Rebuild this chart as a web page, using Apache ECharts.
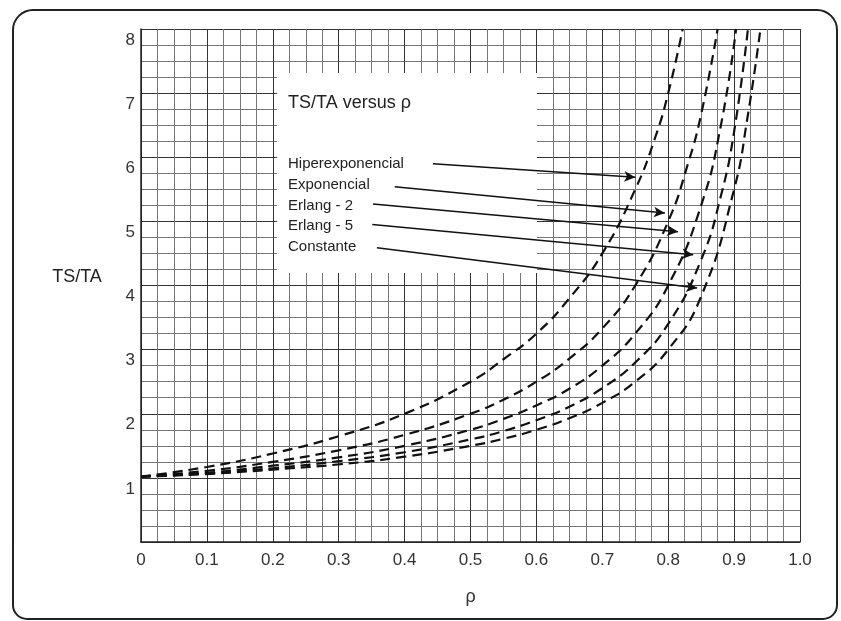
<!DOCTYPE html>
<html>
<head>
<meta charset="utf-8">
<script src="https://cdn.jsdelivr.net/npm/echarts@6/dist/echarts.min.js"></script>
<style>html,body{margin:0;padding:0;background:#fff}#c{width:841px;height:621px}</style>
</head>
<body>
<div id="c"></div>
<script>
// ---- data ----
const seriesNames = ['Hiperexponencial', 'Exponencial', 'Erlang - 2', 'Erlang - 5', 'Constante'];
const rhoHiper = [0, 0.1, 0.2, 0.3, 0.4, 0.5, 0.55, 0.6, 0.65, 0.7, 0.75, 0.78, 0.8, 0.822];
const tsHiper  = [1.02, 1.17, 1.38, 1.65, 2.0, 2.5, 2.85, 3.25, 3.8, 4.5, 5.5, 6.3, 7.0, 8.0];
const rhoExp = [0, 0.1, 0.2, 0.3, 0.4, 0.5, 0.55, 0.6, 0.65, 0.7, 0.75, 0.8, 0.83, 0.85, 0.875];
const tsExp  = [1.02, 1.11, 1.25, 1.43, 1.67, 2.0, 2.22, 2.5, 2.86, 3.33, 4.0, 5.0, 5.9, 6.67, 8.0];
const rhoErl2 = [0, 0.1, 0.2, 0.3, 0.4, 0.5, 0.55, 0.6, 0.65, 0.7, 0.75, 0.8, 0.85, 0.88, 0.903];
const tsErl2  = [1.02, 1.08, 1.19, 1.32, 1.5, 1.75, 1.92, 2.13, 2.39, 2.75, 3.25, 4.0, 5.25, 6.5, 8.0];
const rhoErl5 = [0, 0.1, 0.2, 0.3, 0.4, 0.5, 0.55, 0.6, 0.65, 0.7, 0.75, 0.8, 0.85, 0.88, 0.9, 0.921];
const tsErl5  = [1.02, 1.07, 1.15, 1.26, 1.4, 1.6, 1.73, 1.9, 2.11, 2.4, 2.8, 3.4, 4.4, 5.4, 6.4, 8.0];
const rhoConst = [0, 0.1, 0.2, 0.3, 0.4, 0.5, 0.55, 0.6, 0.65, 0.7, 0.75, 0.8, 0.85, 0.9, 0.92, 0.94];
const tsConst  = [1.02, 1.06, 1.13, 1.21, 1.33, 1.5, 1.61, 1.75, 1.93, 2.17, 2.5, 3.0, 3.83, 5.5, 6.6, 8.0];
// arrow annotations [rho, ts] start -> end, one per legend entry
const arrowStarts = [[0.443, 5.90], [0.385, 5.54], [0.352, 5.27], [0.351, 4.95], [0.358, 4.59]];
const arrowEnds   = [[0.750, 5.69], [0.795, 5.13], [0.815, 4.84], [0.838, 4.48], [0.844, 3.96]];
const chartTitle = 'TS/TA versus \u03c1';
const yName = 'TS/TA';
const xName = '\u03c1';

const allRho = [rhoHiper, rhoExp, rhoErl2, rhoErl5, rhoConst];
const allTs = [tsHiper, tsExp, tsErl2, tsErl5, tsConst];

const FONT = "'Liberation Sans', Arial, sans-serif";
const chart = echarts.init(document.getElementById('c'), null, {renderer: 'canvas'});

const series = seriesNames.map((n, i) => ({
  name: n,
  type: 'line',
  data: allRho[i].map((r, j) => [r, allTs[i][j]]),
  showSymbol: false,
  smooth: 0.5,
  lineStyle: {color: '#111', width: 2.2, type: [10, 6]},
  z: 3
}));
series[0].markLine = {
  silent: true,
  symbol: ['none', 'arrow'],
  symbolSize: [8, 11],
  label: {show: false},
  lineStyle: {color: '#111', width: 1.5, type: 'solid'},
  data: arrowStarts.map((s, i) => [{coord: s}, {coord: arrowEnds[i]}])
};

const legendTop = 164, legendStep = 20.7;
const graphics = [
  {type: 'rect', z: 1, shape: {x: 277, y: 73, width: 260, height: 200}, style: {fill: '#fff'}},
  {type: 'text', z: 5, style: {text: chartTitle, x: 288, y: 103, verticalAlign: 'middle', fontSize: 18, fontFamily: FONT, fill: '#222'}},
  {type: 'text', z: 5, style: {text: yName, x: 77, y: 277, align: 'center', verticalAlign: 'middle', fontSize: 18, fontFamily: FONT, fill: '#222'}},
  {type: 'rect', z: 5, shape: {x: 13, y: 10, width: 824, height: 609, r: [20, 20, 14, 14]}, style: {fill: 'none', stroke: '#222', lineWidth: 2}}
];
seriesNames.forEach((n, i) => {
  graphics.push({type: 'text', z: 5, style: {text: n, x: 288, y: legendTop + i * legendStep, verticalAlign: 'middle', fontSize: 15, fontFamily: FONT, fill: '#222'}});
});

chart.setOption({
  animation: false,
  backgroundColor: '#fff',
  grid: {left: 141, right: 41, top: 29, bottom: 79, containLabel: false},
  xAxis: {
    type: 'value', min: 0, max: 1, interval: 0.1,
    name: xName, nameLocation: 'middle', nameGap: 46,
    nameTextStyle: {fontSize: 18, fontFamily: FONT, color: '#333'},
    axisLine: {show: true, lineStyle: {color: '#222', width: 1.5}},
    axisTick: {show: false},
    axisLabel: {fontSize: 17, fontFamily: FONT, color: '#333', margin: 10,
      formatter: v => v === 0 ? '0' : v.toFixed(1)},
    splitLine: {show: true, lineStyle: {color: '#333', width: 1}},
    minorTick: {show: false, splitNumber: 4},
    minorSplitLine: {show: true, lineStyle: {color: '#777', width: 1}}
  },
  yAxis: {
    type: 'value', min: 0, max: 8, interval: 1,
    axisLine: {show: true, lineStyle: {color: '#222', width: 1.5}},
    axisTick: {show: false},
    axisLabel: {fontSize: 17, fontFamily: FONT, color: '#333', margin: 6,
      verticalAlign: 'top', lineHeight: 22,
      formatter: v => v === 0 ? '' : String(v)},
    splitLine: {show: true, lineStyle: {color: '#333', width: 1}},
    minorTick: {show: false, splitNumber: 4},
    minorSplitLine: {show: true, lineStyle: {color: '#777', width: 1}}
  },
  series: series,
  graphic: graphics
});
</script>
</body>
</html>
